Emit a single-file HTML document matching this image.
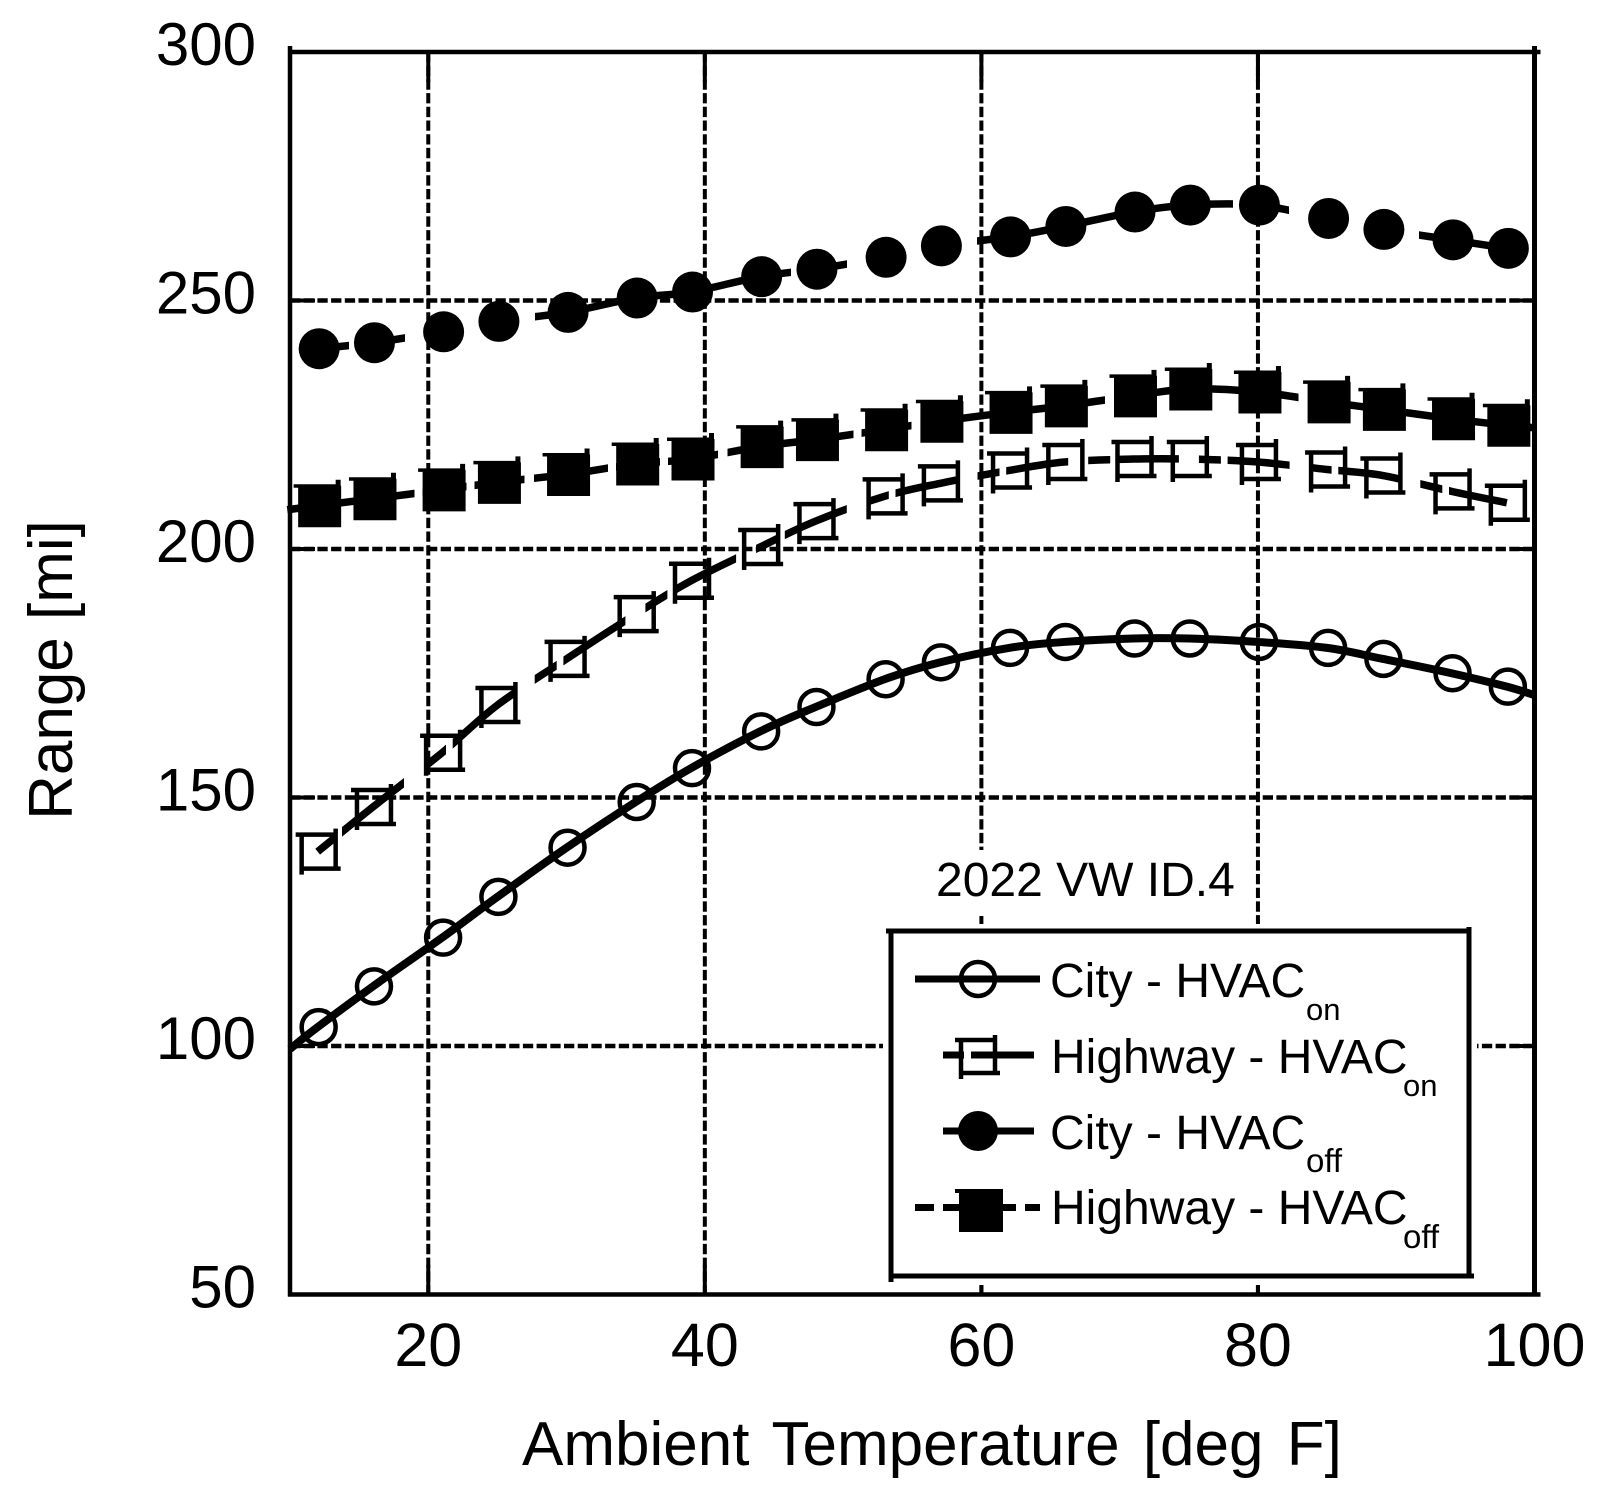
<!DOCTYPE html>
<html lang="en">
<head>
<meta charset="utf-8">
<title>2022 VW ID.4 Range vs Ambient Temperature</title>
<style>
  html, body { margin: 0; padding: 0; background: #fff; }
  svg { display: block; }
  text { font-family: "Liberation Sans", sans-serif; fill: #000; }
</style>
</head>
<body>
<svg id="chart" xmlns="http://www.w3.org/2000/svg" width="1601" height="1503" viewBox="0 0 1601 1503">
  <rect x="0" y="0" width="1601" height="1503" fill="#fff"/>
  <defs id="defs"></defs>
  <g id="grid"></g>
  <g id="axes"></g>
  <g id="ticklabels"></g>
  <g id="series"></g>

  <text x="522" y="1465" font-size="62" word-spacing="6">Ambient Temperature [deg F]</text>
  <text transform="translate(72,670) rotate(-90)" text-anchor="middle" font-size="62">Range [mi]</text>

  <rect x="925" y="850" width="315" height="66" fill="#fff"/>
  <text x="936" y="896" font-size="48">2022 VW ID.4</text>

  <g>
    <rect x="886" y="927" width="588" height="355" fill="#fff" stroke="#fff" stroke-width="6"/>
    <g stroke="#000" stroke-width="5">
      <line x1="886" y1="931" x2="1469" y2="931"/>
      <line x1="891" y1="931" x2="891" y2="1282"/>
      <line x1="1469" y1="927" x2="1469" y2="1276"/>
      <line x1="891" y1="1276" x2="1474" y2="1276"/>
    </g>

    <g>
      <line x1="915" y1="979" x2="1040" y2="979" stroke="#000" stroke-width="7"/>
      <circle cx="978" cy="979" r="17" fill="none" stroke="#000" stroke-width="4.5"/>
      <text x="1050" y="997" font-size="48">City - HVAC</text>
      <text x="1306" y="1020" font-size="31">on</text>
    </g>

    <g>
      <line x1="943" y1="1055" x2="964" y2="1055" stroke="#000" stroke-width="7"/>
      <line x1="971" y1="1055" x2="1034" y2="1055" stroke="#000" stroke-width="7"/>
      <g stroke="#000" stroke-width="4.5">
        <line x1="955" y1="1040" x2="996" y2="1040"/>
        <line x1="961" y1="1040" x2="961" y2="1079"/>
        <line x1="995" y1="1035" x2="995" y2="1073"/>
        <line x1="961" y1="1073" x2="1000" y2="1073"/>
      </g>
      <text x="1051" y="1073" font-size="48">Highway - HVAC</text>
      <text x="1403" y="1096" font-size="31">on</text>
    </g>

    <g>
      <line x1="943" y1="1131" x2="1034" y2="1131" stroke="#000" stroke-width="7"/>
      <circle cx="978" cy="1131" r="20" fill="#000"/>
      <text x="1050" y="1149" font-size="48">City - HVAC</text>
      <text x="1306" y="1172" font-size="33">off</text>
    </g>

    <g>
      <line x1="915" y1="1207.5" x2="934" y2="1207.5" stroke="#000" stroke-width="7"/>
      <line x1="943" y1="1207.5" x2="1016" y2="1207.5" stroke="#000" stroke-width="7"/>
      <line x1="1025" y1="1207.5" x2="1040" y2="1207.5" stroke="#000" stroke-width="7"/>
      <rect x="959" y="1189" width="44" height="43" fill="#000"/>
      <line x1="955" y1="1191" x2="1003" y2="1191" stroke="#000" stroke-width="4"/>
      <text x="1051" y="1224" font-size="48">Highway - HVAC</text>
      <text x="1403" y="1248" font-size="33">off</text>
    </g>
  </g>
</svg>

<script>
// ---- chart data ----
const xTickValues = [20, 40, 60, 80, 100];
const yTickValues = [50, 100, 150, 200, 250, 300];
const temperatures = [12, 16, 21, 25, 30, 35, 39, 44, 48, 53, 57, 62, 66, 71, 75, 80, 85, 89, 94, 98];
const cityHvacOn = [103.8, 112, 121.8, 130, 139.9, 149.1, 155.9, 163.3, 168.2, 173.8, 177.2, 180.1, 181.3, 182, 182, 181.3, 180.1, 177.9, 175, 172.3];
const highwayHvacOn = [139.1, 148.1, 159, 168.6, 177.9, 186.9, 193.6, 200.4, 205.6, 210.6, 213.2, 215.8, 217.5, 218.1, 218.1, 217.5, 216, 214.8, 211.6, 209.3];
const cityHvacOff = [240.3, 241.5, 243.7, 245.8, 247.6, 250.5, 251.7, 254.8, 256.3, 258.7, 261, 262.8, 264.9, 267.8, 269.2, 269.2, 266.5, 264.3, 262.2, 260.5];
const highwayHvacOff = [208.7, 210.1, 211.9, 213.4, 215, 217.1, 218.1, 220.6, 222, 224, 225.7, 227.5, 228.8, 230.8, 232.2, 231.6, 229.6, 228.1, 226.2, 224.9];
// curve ends that run past the first/last markers
const cityOnLineStart = [10, 99.4];
const cityOnLineEnd = [100, 170.6];
const highwayOffLineStart = [9.8, 207.9];
const highwayOffLineEnd = [100, 224.4];

// ---- axis functions ----
const NS = 'http://www.w3.org/2000/svg';
const plotLeft = 290, plotRight = 1534.5, plotTop = 52, plotBottom = 1294.5;
const xMin = 10, xMax = 100, yMin = 50, yMax = 300;
function xScale(v) { return plotLeft + (v - xMin) / (xMax - xMin) * (plotRight - plotLeft); }
function yScale(v) { return plotBottom - (v - yMin) / (yMax - yMin) * (plotBottom - plotTop); }

function make(tag, attrs, parent) {
  const n = document.createElementNS(NS, tag);
  for (const k in attrs) n.setAttribute(k, attrs[k]);
  if (parent) parent.appendChild(n);
  return n;
}

const gridG = document.getElementById('grid');
const axesG = document.getElementById('axes');
const labelsG = document.getElementById('ticklabels');
const seriesG = document.getElementById('series');
const defsEl = document.getElementById('defs');

// ---- grid lines, ticks, tick labels ----
xTickValues.forEach(function (t) {
  if (t < xMax) {
    const g = make('line', { x1: xScale(t), y1: plotTop, x2: xScale(t), y2: plotBottom, stroke: '#000', 'stroke-width': 4, 'stroke-dasharray': '10.3 3.4' }, gridG);
    
    
    const top = make('line', { x1: xScale(t), y1: plotTop, x2: xScale(t), y2: plotTop + 30, stroke: '#000', 'stroke-width': 4 }, axesG);
    
    
    const bottom = make('line', { x1: xScale(t), y1: plotBottom - 30, x2: xScale(t), y2: plotBottom, stroke: '#000', 'stroke-width': 4 }, axesG);
    
    
  }
  const label = make('text', { x: xScale(t), y: 1366, 'text-anchor': 'middle', 'font-size': 61 }, labelsG);
  
  
  label.textContent = String(t);
});

yTickValues.forEach(function (v) {
  if (v > yMin && v < yMax) {
    const g = make('line', { x1: plotLeft, y1: yScale(v), x2: plotRight, y2: yScale(v), stroke: '#000', 'stroke-width': 4.5, 'stroke-dasharray': '10.3 3.4' }, gridG);
    
    
    const left = make('line', { x1: plotLeft, y1: yScale(v), x2: plotLeft + 25, y2: yScale(v), stroke: '#000', 'stroke-width': 4 }, axesG);
    
    
    const right = make('line', { x1: plotRight - 25, y1: yScale(v), x2: plotRight, y2: yScale(v), stroke: '#000', 'stroke-width': 4 }, axesG);
    
    
  }
  const label = make('text', { x: 256, y: yScale(v) + 13, 'text-anchor': 'end', 'font-size': 60 }, labelsG);
  
  
  label.textContent = String(v);
});

// ---- plot frame ----
const frameTop = make('line', { x1: plotLeft - 2, y1: plotTop, x2: plotRight + 6, y2: plotTop, stroke: '#000', 'stroke-width': 4.5 }, axesG);


const frameBottom = make('line', { x1: plotLeft - 2, y1: plotBottom, x2: plotRight + 6, y2: plotBottom, stroke: '#000', 'stroke-width': 4.5 }, axesG);


const frameLeft = make('line', { x1: plotLeft, y1: plotTop - 6, x2: plotLeft, y2: plotBottom + 2, stroke: '#000', 'stroke-width': 4.5 }, axesG);


const frameRight = make('line', { x1: plotRight, y1: plotTop - 6, x2: plotRight, y2: plotBottom + 2, stroke: '#000', 'stroke-width': 5 }, axesG);



// ---- curve helper: Catmull-Rom through points ----
function smoothPath(pts) {
  let d = 'M' + pts[0][0].toFixed(2) + ' ' + pts[0][1].toFixed(2);
  for (let i = 0; i < pts.length - 1; i++) {
    const p0 = pts[Math.max(i - 1, 0)], p1 = pts[i], p2 = pts[i + 1], p3 = pts[Math.min(i + 2, pts.length - 1)];
    const c1x = p1[0] + (p2[0] - p0[0]) / 6, c1y = p1[1] + (p2[1] - p0[1]) / 6;
    const c2x = p2[0] - (p3[0] - p1[0]) / 6, c2y = p2[1] - (p3[1] - p1[1]) / 6;
    d += 'C' + c1x.toFixed(2) + ' ' + c1y.toFixed(2) + ' ' + c2x.toFixed(2) + ' ' + c2y.toFixed(2) + ' ' + p2[0].toFixed(2) + ' ' + p2[1].toFixed(2);
  }
  return d;
}

function linePoints(values, first, last) {
  const pts = [];
  if (first) pts.push([xScale(first[0]), yScale(first[1])]);
  temperatures.forEach(function (t, i) { pts.push([xScale(t), yScale(values[i])]); });
  if (last) pts.push([xScale(last[0]), yScale(last[1])]);
  return pts;
}

// Horizontal dash clip: the source's dashes repeat along x, not along arc length.
function dashClip(id, origin, period, pieces) {
  const clip = make('clipPath', { id: id }, defsEl);
  for (let k = -4; k < 14; k++) {
    pieces.forEach(function (piece) {
      make('rect', { x: origin + k * period + piece[0], y: 0, width: piece[1] - piece[0], height: 1503 }, clip);
    });
  }
}
dashClip('dash-highway-on', 342, 110.7, [[0, 62], [82, 104]]);
dashClip('dash-city-off', 535, 442, [[0, 256], [264, 312]]);
dashClip('dash-highway-off', 534, 193.5, [[0, 74], [82, 126], [134, 184]]);

// ---- series lines ----
const cityOnLine = make('path', { d: smoothPath(linePoints(cityHvacOn, cityOnLineStart, cityOnLineEnd)), fill: 'none', stroke: '#000', 'stroke-width': 8 }, seriesG);



const highwayOnLine = make('path', { d: smoothPath(linePoints(highwayHvacOn)), fill: 'none', stroke: '#000', 'stroke-width': 7.5, 'clip-path': 'url(#dash-highway-on)' }, seriesG);



const cityOffLine = make('path', { d: smoothPath(linePoints(cityHvacOff)), fill: 'none', stroke: '#000', 'stroke-width': 7.5, 'clip-path': 'url(#dash-city-off)' }, seriesG);



const highwayOffLine = make('path', { d: smoothPath(linePoints(highwayHvacOff, highwayOffLineStart, highwayOffLineEnd)), fill: 'none', stroke: '#000', 'stroke-width': 7.5, 'clip-path': 'url(#dash-highway-off)' }, seriesG);



// ---- series markers ----
temperatures.forEach(function (t, i) {
  const cx = xScale(t);

  const openCircle = make('circle', { cx: cx + 1, cy: yScale(cityHvacOn[i]), r: 17, fill: 'none', stroke: '#000', 'stroke-width': 4.5 }, seriesG);
  
  

  const cyS = yScale(highwayHvacOn[i]);
  const openSquare = make('path', {
    d: 'M' + (cx - 22) + ' ' + (cyS - 17) + 'H' + (cx + 18) +
       'M' + (cx - 16) + ' ' + (cyS - 17) + 'V' + (cyS + 23) +
       'M' + (cx + 18) + ' ' + (cyS - 23) + 'V' + (cyS + 17) +
       'M' + (cx - 16) + ' ' + (cyS + 17) + 'H' + (cx + 23),
    fill: 'none', stroke: '#000', 'stroke-width': 4.5
  }, seriesG);
  
  

  const filledCircle = make('circle', { cx: cx + 1.5, cy: yScale(cityHvacOff[i]), r: 20.5, fill: '#000' }, seriesG);
  
  

  const cyF = yScale(highwayHvacOff[i]);
  const fx = cx + 2;
  const filledSquare = make('path', {
    d: 'M' + (fx - 21.5) + ' ' + (cyF - 20) + 'H' + (fx + 21.5) + 'V' + (cyF + 21.5) + 'H' + (fx - 21.5) + 'Z' +
       'M' + (fx - 26) + ' ' + (cyF - 21.5) + 'H' + (fx + 16) + 'V' + (cyF - 26) + 'H' + (fx + 21) + 'V' + (cyF - 18) + 'H' + (fx - 26) + 'Z',
    fill: '#000'
  }, seriesG);
  
  
});
</script>
</body>
</html>
